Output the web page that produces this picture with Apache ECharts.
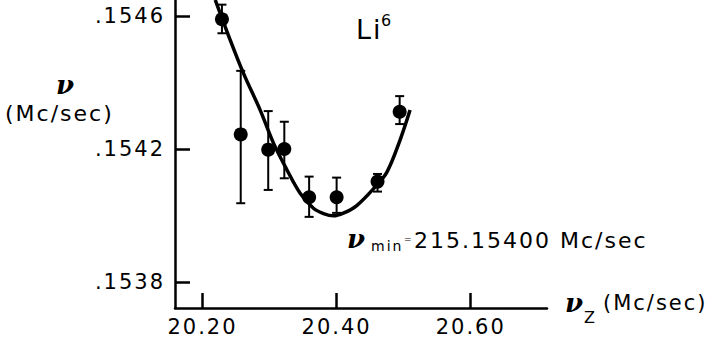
<!DOCTYPE html>
<html>
<head>
<meta charset="utf-8">
<script src="https://cdn.jsdelivr.net/npm/echarts@6/dist/echarts.min.js"></script>
<style>
  html, body { margin: 0; padding: 0; background: #fff; }
  #chart { width: 725px; height: 345px; }
  #chart svg text { letter-spacing: 2px; }
</style>
</head>
<body>
<div id="chart"></div>
<script>
// ---- data ----
var pointX      = [20.229, 20.257, 20.298, 20.322, 20.359, 20.400, 20.461, 20.494];
var pointY      = [0.154590, 0.154244, 0.154198, 0.154200, 0.154055, 0.154055, 0.154102, 0.154312];
var errTop      = [0.154634, 0.154435, 0.154314, 0.154282, 0.154117, 0.154114, 0.154125, 0.154359];
var errBottom   = [0.154548, 0.154037, 0.154077, 0.154112, 0.153996, 0.154008, 0.154072, 0.154275];
var curveX      = [20.219, 20.2375, 20.261, 20.286, 20.306, 20.326, 20.3456, 20.3654, 20.3805, 20.3953, 20.410, 20.430, 20.4548, 20.4748, 20.4946, 20.5095];
var curveY      = [0.154648, 0.154548, 0.154428, 0.154317, 0.154217, 0.154137, 0.154067, 0.154022, 0.154006, 0.153999, 0.154007, 0.154030, 0.154080, 0.154130, 0.154227, 0.154317];
var xTickValues = [20.20, 20.40, 20.60];
var yTickValues = [0.1538, 0.1542, 0.1546];
var xRange      = [20.159, 20.7137];
var yRange      = [0.153722, 0.154648];

var FONT = '"DejaVu Sans", sans-serif';
var NUFONT = '"DejaVu Serif", serif';

var points = pointX.map(function (x, i) { return [x, pointY[i]]; });
var errors = pointX.map(function (x, i) { return [x, errBottom[i], errTop[i]]; });
var curve  = curveX.map(function (x, i) { return [x, curveY[i]]; });

var chart = echarts.init(document.getElementById('chart'), null, { renderer: 'svg' });

chart.setOption({
  animation: false,
  backgroundColor: '#fff',
  grid: { left: 175, top: 0, width: 372, height: 308 },
  xAxis: {
    type: 'value',
    min: xRange[0], max: xRange[1],
    axisLine: { show: true, onZero: false, lineStyle: { color: '#000', width: 2.5 } },
    axisTick: { show: true, inside: true, length: 15, customValues: xTickValues,
                lineStyle: { color: '#000', width: 2.5 } },
    axisLabel: { show: true, customValues: xTickValues, margin: 8, color: '#000',
                 fontFamily: FONT, fontSize: 21,
                 formatter: function (v) { return v.toFixed(2); } },
    splitLine: { show: false }
  },
  yAxis: {
    type: 'value',
    min: yRange[0], max: yRange[1],
    axisLine: { show: true, onZero: false, lineStyle: { color: '#000', width: 2.5 } },
    axisTick: { show: true, inside: true, length: 15, customValues: yTickValues,
                lineStyle: { color: '#000', width: 2.5 } },
    axisLabel: { show: true, customValues: yTickValues, margin: 10, color: '#000',
                 fontFamily: FONT, fontSize: 21,
                 formatter: function (v) { return '.' + Math.round(v * 10000); } },
    splitLine: { show: false }
  },
  series: [
    {
      type: 'line',
      data: curve,
      smooth: 0.35,
      showSymbol: false,
      clip: true,
      lineStyle: { color: '#000', width: 3.5 },
      z: 2
    },
    {
      type: 'custom',
      data: errors,
      clip: true,
      renderItem: function (params, api) {
        var x = api.value(0);
        var lo = api.coord([x, api.value(1)]);
        var hi = api.coord([x, api.value(2)]);
        var hw = 4.5;
        var st = { stroke: '#000', lineWidth: 2 };
        return {
          type: 'group',
          children: [
            { type: 'line', shape: { x1: lo[0], y1: lo[1], x2: hi[0], y2: hi[1] }, style: st },
            { type: 'line', shape: { x1: lo[0] - hw, y1: lo[1], x2: lo[0] + hw, y2: lo[1] }, style: st },
            { type: 'line', shape: { x1: hi[0] - hw, y1: hi[1], x2: hi[0] + hw, y2: hi[1] }, style: st }
          ]
        };
      },
      z: 3
    },
    {
      type: 'scatter',
      data: points,
      symbol: 'circle',
      symbolSize: 14,
      itemStyle: { color: '#000', opacity: 1 },
      z: 4
    }
  ],
  graphic: [
    // y-axis title
    { type: 'text', left: 56, top: 72, style: { text: 'ν', font: 'italic bold 26px ' + NUFONT, fill: '#000' } },
    { type: 'text', left: 5, top: 102, style: { text: '(Mc/sec)', font: '22px ' + FONT, fill: '#000' } },
    // Li6
    { type: 'text', left: 356, top: 16, style: { text: 'Li', font: '27px ' + FONT, fill: '#000' } },
    { type: 'text', left: 381, top: 12, style: { text: '6', font: '16px ' + FONT, fill: '#000' } },
    // nu_min annotation
    { type: 'text', left: 347, top: 226, style: { text: 'ν', font: 'italic bold 26px ' + NUFONT, fill: '#000' } },
    { type: 'text', left: 371, top: 239, style: { text: 'min', font: '14px ' + FONT, fill: '#000' } },
    { type: 'text', left: 404, top: 234, style: { text: '=', font: '9px ' + FONT, fill: '#000' } },
    { type: 'text', left: 414, top: 229, style: { text: '215.15400 Mc/sec', font: '22px ' + FONT, fill: '#000' } },
    // x-axis title
    { type: 'text', left: 565, top: 290, style: { text: 'ν', font: 'italic bold 26px ' + NUFONT, fill: '#000' } },
    { type: 'text', left: 584, top: 309, style: { text: 'Z', font: '16px ' + FONT, fill: '#000' } },
    { type: 'text', left: 603, top: 292, style: { text: '(Mc/sec)', font: '21px ' + FONT, fill: '#000' } }
  ]
});
</script>
</body>
</html>
